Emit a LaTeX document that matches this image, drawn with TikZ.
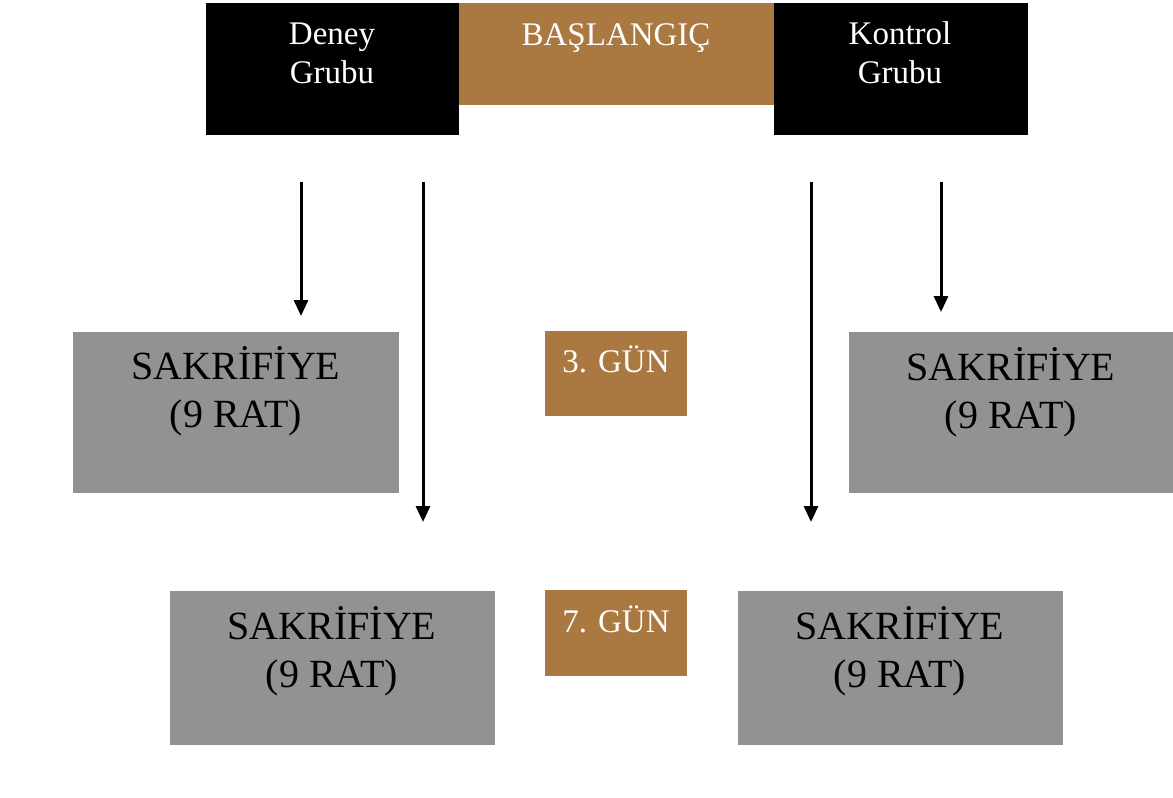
\documentclass[tikz,border=0pt]{standalone}
\usepackage{fontspec}
\setmainfont{Liberation Serif}
\usetikzlibrary{arrows.meta}
\definecolor{brownbox}{RGB}{170,121,66}
\definecolor{graybox}{RGB}{146,146,146}
\tikzset{
  blk/.style={fill=black, draw=none, inner sep=0pt, anchor=north west},
  brn/.style={fill=brownbox, draw=none, inner sep=0pt, anchor=north west},
  gry/.style={fill=graybox, draw=none, inner sep=0pt, anchor=north west},
  wtxt/.style={text=white, font=\fontsize{33}{39}\selectfont, align=center, anchor=base, inner sep=0pt},
  btxt/.style={text=black, font=\fontsize{40}{48}\selectfont, align=center, anchor=base, inner sep=0pt},
  arr/.style={line width=3pt, -{Triangle[length=16pt,width=14pt]}},
}
\begin{document}
\begin{tikzpicture}[x=1pt,y=-1pt]
\useasboundingbox (0,0) rectangle (1173,798);
% boxes
\node[blk, minimum width=253pt, minimum height=132pt] (deney) at (206,3) {};
\node[brn, minimum width=315pt, minimum height=102pt] (bas) at (459,3) {};
\node[blk, minimum width=254pt, minimum height=132pt] (kontrol) at (774,3) {};
\node[gry, minimum width=326pt, minimum height=161pt] (sl1) at (73,332) {};
\node[brn, minimum width=142pt, minimum height=85pt] (g3) at (545,331) {};
\node[gry, minimum width=324pt, minimum height=161pt] (sr1) at (849,332) {};
\node[gry, minimum width=325pt, minimum height=154pt] (sl2) at (170,591) {};
\node[brn, minimum width=142pt, minimum height=86pt] (g7) at (545,590) {};
\node[gry, minimum width=325pt, minimum height=154pt] (sr2) at (738,591) {};
% texts (anchor base = baseline of last line)
\node[wtxt] (tdeney) at (332,83) {Deney\\Grubu};
\node[wtxt] (tbas) at (616,45) {BAŞLANGIÇ};
\node[wtxt] (tkontrol) at (900,83) {Kontrol\\Grubu};
\node[btxt] (tsl1) at (236,427) {SAKRİFİYE\\(9 RAT)};
\node[wtxt] (tg3) at (616,372) {3. GÜN};
\node[btxt] (tsr1) at (1011,428) {SAKRİFİYE\\(9 RAT)};
\node[btxt] (tsl2) at (332,687) {SAKRİFİYE\\(9 RAT)};
\node[wtxt] (tg7) at (616,632) {7. GÜN};
\node[btxt] (tsr2) at (900,687) {SAKRİFİYE\\(9 RAT)};
% arrows
\coordinate (a1s) at (301,182); \coordinate (a1e) at (301,316);
\coordinate (a2s) at (423,182); \coordinate (a2e) at (423,522);
\coordinate (a3s) at (811,182); \coordinate (a3e) at (811,522);
\coordinate (a4s) at (941,182); \coordinate (a4e) at (941,312);
\draw[arr] (a1s) -- (a1e);
\draw[arr] (a2s) -- (a2e);
\draw[arr] (a3s) -- (a3e);
\draw[arr] (a4s) -- (a4e);
\end{tikzpicture}
\end{document}
